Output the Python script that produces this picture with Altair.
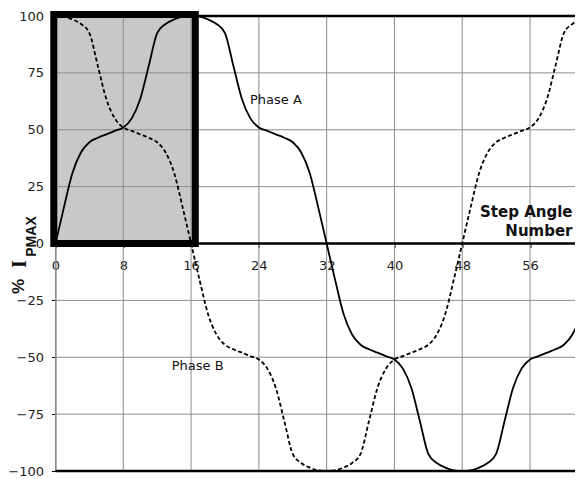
import altair as alt
import pandas as pd

# ---- data ----
steps = list(range(65))
phase_a = [0, 16, 31, 40, 44.5, 46.5, 48, 49.5, 51, 55, 63.5, 78, 92.5, 96.5, 98.5, 99.7, 100,
           99.7, 98.5, 96.5, 92.5, 78, 63.5, 55, 51, 49.5, 48, 46.5, 44.5, 40, 31, 16, 0,
           -16, -31, -40, -44.5, -46.5, -48, -49.5, -51, -55, -63.5, -78, -92.5, -96.5, -98.5, -99.7, -100,
           -99.7, -98.5, -96.5, -92.5, -78, -63.5, -55, -51, -49.5, -48, -46.5, -44.5, -40, -31, -16, 0]
phase_b = [100, 99.7, 98.5, 96.5, 92.5, 78, 63.5, 55, 51, 49.5, 48, 46.5, 44.5, 40, 31, 16, 0,
           -16, -31, -40, -44.5, -46.5, -48, -49.5, -51, -55, -63.5, -78, -92.5, -96.5, -98.5, -99.7, -100,
           -99.7, -98.5, -96.5, -92.5, -78, -63.5, -55, -51, -49.5, -48, -46.5, -44.5, -40, -31, -16, 0,
           16, 31, 40, 44.5, 46.5, 48, 49.5, 51, 55, 63.5, 78, 92.5, 96.5, 98.5, 99.7, 100]
x_ticks = [0, 8, 16, 24, 32, 40, 48, 56]
y_ticks = [-100, -75, -50, -25, 0, 25, 50, 75, 100]
heavy_lines = [100, 0, -100]
box_x = [-0.2, 16.5]
box_y = [0, 100.7]
x_max = 61.31

W, H = 519.5, 455

df = pd.DataFrame({"step": steps, "A": phase_a, "B": phase_b})
box_df = pd.DataFrame({"x0": [box_x[0]], "x1": [box_x[1]], "y0": [box_y[0]], "y1": [box_y[1]]})
xgrid_df = pd.DataFrame({"gx": x_ticks})
ygrid_df = pd.DataFrame({"gy": y_ticks})
heavy_df = pd.DataFrame({"gy": heavy_lines})
one = pd.DataFrame({"k": [0]})

xs = alt.Scale(domain=[0, x_max], nice=False, zero=False)
ys = alt.Scale(domain=[-100, 100], nice=False, zero=False)

ax_x = alt.Axis(values=x_ticks, title=None, grid=False, domain=False, ticks=True, tickSize=4,
                tickColor="black", labelFont="DejaVu Sans", labelFontSize=13, labelColor="#222",
                labelPadding=12, offset=-H / 2, orient="bottom", labelFlush=False, labelOverlap=False)
ax_y = alt.Axis(values=y_ticks, title=None, grid=False, domain=True, domainColor="#666",
                tickSize=4, tickColor="black", labelFont="DejaVu Sans", labelFontSize=13,
                labelColor="#222", labelPadding=8, labelFlush=False, labelOverlap=False)

box_fill = alt.Chart(box_df).mark_rect(color="#c8c8c8").encode(
    x=alt.X("x0:Q", scale=xs, axis=ax_x), x2="x1:Q",
    y=alt.Y("y0:Q", scale=ys, axis=ax_y), y2="y1:Q")

xgrid = alt.Chart(xgrid_df).mark_rule(color="#8c8c8c", strokeWidth=1).encode(
    x=alt.X("gx:Q", scale=xs, axis=ax_x))
ygrid = alt.Chart(ygrid_df).mark_rule(color="#8c8c8c", strokeWidth=1).encode(
    y=alt.Y("gy:Q", scale=ys, axis=ax_y))
heavy = alt.Chart(heavy_df).mark_rule(color="black", strokeWidth=2.5).encode(
    y=alt.Y("gy:Q", scale=ys, axis=ax_y))

line_a = alt.Chart(df).mark_line(color="black", strokeWidth=1.8, interpolate="monotone", clip=True).encode(
    x=alt.X("step:Q", scale=xs, axis=ax_x), y=alt.Y("A:Q", scale=ys, axis=ax_y))
line_b = alt.Chart(df).mark_line(color="black", strokeWidth=1.8, strokeDash=[4, 2.5],
                                 interpolate="monotone", clip=True).encode(
    x=alt.X("step:Q", scale=xs, axis=ax_x), y=alt.Y("B:Q", scale=ys, axis=ax_y))

box_border = alt.Chart(box_df).mark_rect(fillOpacity=0, stroke="black", strokeWidth=7).encode(
    x=alt.X("x0:Q", scale=xs, axis=ax_x), x2="x1:Q",
    y=alt.Y("y0:Q", scale=ys, axis=ax_y), y2="y1:Q")


def label(txt, x, y, align="left", size=13, font="DejaVu Sans", weight="normal", angle=0,
          baseline="middle"):
    return alt.Chart(one).mark_text(text=txt, align=align, baseline=baseline, fontSize=size,
                                    font=font, fontWeight=weight, angle=angle, color="#111").encode(
        x=alt.value(x), y=alt.value(y))


texts = [
    label("Phase A", 194.5, 83.5),
    label("Phase B", 116.2, 349.5),
    label("Step Angle", 517, 195.5, align="right", size=15, weight="bold"),
    label("Number", 517, 214.5, align="right", size=15, weight="bold"),
    label("%", -31.5, 270.5, align="center", size=17, font="Liberation Sans", weight="bold",
          angle=270, baseline="alphabetic"),
    label("I", -30, 248, align="center", size=20, font="Liberation Serif", weight="bold",
          angle=270, baseline="alphabetic"),
    label("PMAX", -19.5, 220.5, align="center", size=14, font="Liberation Sans", weight="bold",
          angle=270, baseline="alphabetic"),
]

chart = alt.layer(box_fill, xgrid, ygrid, heavy, line_a, line_b, box_border, *texts).properties(
    width=W, height=H,
    autosize=alt.AutoSizeParams(type="none"),
    padding={"left": 47.5, "top": 8, "right": 0, "bottom": 8},
    background="white",
).configure_view(strokeWidth=0)

chart.save("out.html", embed_options={"renderer": "svg", "actions": False})
